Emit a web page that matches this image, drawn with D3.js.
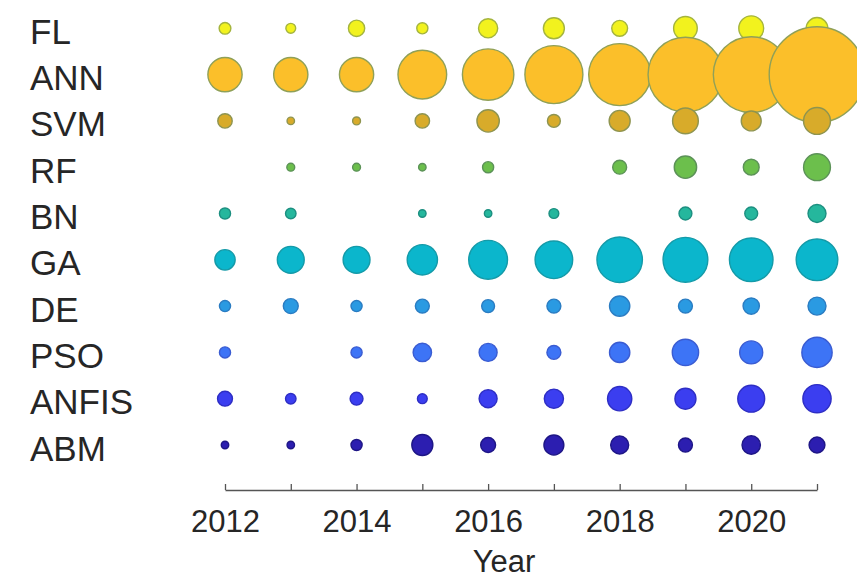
<!DOCTYPE html>
<html>
<head>
<meta charset="utf-8">
<script src="https://cdn.jsdelivr.net/npm/d3@7"></script>
<style>
  html, body { margin: 0; padding: 0; background: #fff; overflow: hidden; }
  svg { display: block; }
  text { font-family: "Liberation Sans", Arial, Helvetica, sans-serif; fill: #262626; }
</style>
</head>
<body>
<div id="chart"></div>
<script>
// ---- data (bubble size values; 0 = no bubble) ----
const years = [2012, 2013, 2014, 2015, 2016, 2017, 2018, 2019, 2020, 2021];
const methods = ["FL", "ANN", "SVM", "RF", "BN", "GA", "DE", "PSO", "ANFIS", "ABM"];
const tickLabels = ["2012", "2014", "2016", "2018", "2020"];

const FL    = [11, 8, 20, 10, 27, 32, 19, 40, 44, 34];
const ANN   = [81, 81, 81, 160, 178, 225, 256, 370, 380, 600];
const SVM   = [16, 5, 5.5, 16, 36, 13, 32, 47, 29, 51];
const RF    = [0, 5.5, 5.5, 5, 10, 0, 15, 36, 19, 51];
const BN    = [10, 9, 0, 5, 5, 8, 0, 13, 13, 24];
const GA    = [30, 51, 51, 64, 103, 97, 140, 136, 129, 118];
const DE    = [10, 17, 10, 15, 13, 15, 30, 15, 20, 24];
const PSO   = [10, 0, 10, 25, 24, 15, 30, 49, 38, 64];
const ANFIS = [17, 9, 13, 8, 24, 27, 42, 32, 51, 56];
const ABM   = [5, 5, 10, 32, 17, 29, 24, 15, 25, 19];

const seriesValues = [FL, ANN, SVM, RF, BN, GA, DE, PSO, ANFIS, ABM];

// ---- styles ----
const fillColors = ["#f2f21e", "#fbbf2a", "#d8ab2a", "#6cbf4c", "#25b79d", "#0bb6cc", "#2a9ae2", "#3d74f6", "#3b3ef0", "#2c1eb0"];
const edgeColors = ["#a4b43e", "#8fa058", "#8e9450", "#5c9258", "#1c8f80", "#149aa8", "#2a7cc2", "#3a5cd2", "#2e2ec4", "#1e1686"];

const W = 857, H = 579;
const svg = d3.select("#chart").append("svg").attr("width", W).attr("height", H);

const x = d3.scaleLinear().domain([2012, 2021]).range([225, 817]);
const y = d3.scalePoint().domain(methods).range([28.3, 445]);
const r = d3.scaleSqrt().domain([0, 600]).range([0, 48.5]);

// flatten into table
const table = [];
methods.forEach((m, i) => {
  years.forEach((yr, j) => {
    const v = seriesValues[i][j];
    if (v > 0) table.push({ method: m, idx: i, year: yr, value: v });
  });
});

// bubbles: row by row, left to right
svg.append("g")
  .selectAll("circle")
  .data(table)
  .join("circle")
  .attr("cx", d => x(d.year))
  .attr("cy", d => y(d.method))
  .attr("r", d => Math.max(r(d.value) - 0.7, 1))
  .attr("fill", d => fillColors[d.idx])
  .attr("stroke", d => edgeColors[d.idx])
  .attr("stroke-width", 1.4);

// row labels
svg.append("g")
  .selectAll("text")
  .data(methods)
  .join("text")
  .attr("x", 30)
  .attr("y", d => y(d) + 15.5)
  .attr("font-size", 35)
  .text(d => d);

// x axis
const axis = d3.axisBottom(x)
  .tickValues(years)
  .tickFormat(d => tickLabels.includes(String(d)) ? String(d) : "")
  .tickSizeInner(-6)
  .tickSizeOuter(0);

const gx = svg.append("g").attr("transform", "translate(0,490)").call(axis);
gx.select(".domain").attr("stroke", "#555").attr("stroke-width", 1.3);
gx.selectAll(".tick line").attr("stroke", "#555").attr("stroke-width", 1.3);
gx.selectAll(".tick text")
  .attr("y", 42)
  .attr("dy", 0)
  .attr("font-size", 31)
  .attr("font-family", "\"Liberation Sans\", Arial, Helvetica, sans-serif")
  .attr("fill", "#333");

svg.append("text")
  .attr("x", 504)
  .attr("y", 572)
  .attr("text-anchor", "middle")
  .attr("font-size", 31)
  .attr("fill", "#333")
  .text("Year");
</script>
</body>
</html>
